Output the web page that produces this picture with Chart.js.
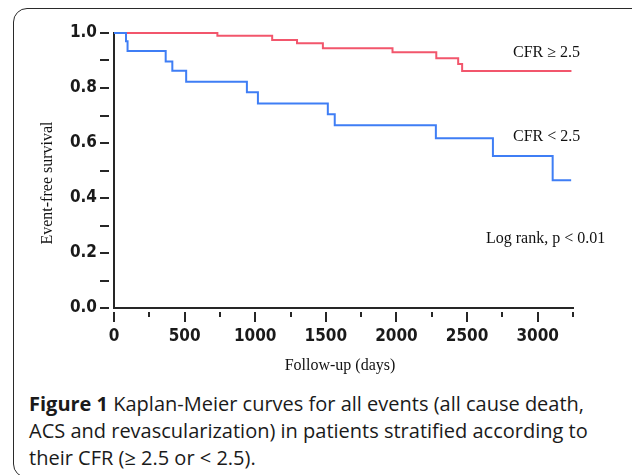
<!DOCTYPE html>
<html>
<head>
<meta charset="utf-8">
<script src="https://cdn.jsdelivr.net/npm/chart.js@4/dist/chart.umd.min.js"></script>
<style>
    html, body { margin: 0; padding: 0; background: #fff; width: 632px; height: 475px; overflow: hidden; }
    #frame {
        position: absolute; left: 13px; top: 8px; width: 640px; height: 470px;
        border: 1.5px solid #2a2a2a; border-radius: 14px; box-sizing: border-box;
    }
    #wrap { position: absolute; left: 0; top: 0; width: 632px; height: 380px; }
    #caption {
        position: absolute; left: 29px; top: 390px; width: 600px;
        font-family: "Open Sans", sans-serif; font-size: 20px; line-height: 27px; color: #1a1a1a;
    }
    #caption b { font-weight: 700; }
</style>
</head>
<body>
<div id="frame"></div>
<div id="wrap"><canvas id="km" width="632" height="380"></canvas></div>
<div id="caption"><b>Figure 1</b> Kaplan-Meier curves for all events (all cause death,<br>ACS and revascularization) in patients stratified according to<br>their CFR (≥ 2.5 or &lt; 2.5).</div>
<script>
// follow-up days where the survival estimate changes, and the estimate after each step
const daysHighCfr = [0, 732, 1120, 1296, 1479, 1972, 2282, 2437, 2465, 3239];
const survHighCfr = [1, 0.99, 0.975, 0.963, 0.945, 0.93, 0.908, 0.887, 0.862, 0.862];

const daysLowCfr = [0, 85, 96, 366, 413, 511, 941, 1019, 1514, 1563, 2279, 2683, 3106, 3237];
const survLowCfr = [1, 0.97, 0.935, 0.896, 0.863, 0.823, 0.785, 0.744, 0.705, 0.665, 0.617, 0.553, 0.465, 0.465];

const xMax = 3250;
const yLabelEvery = 0.2;

const toPoints = (days, surv) => days.map((d, i) => ({ x: d, y: surv[i] }));

const axisColor = "#262626";
const tickFont = { family: "DejaVu Sans Condensed", size: 17, weight: "bold" };
const serif = '16px "Liberation Serif", "Times New Roman", serif';

const extras = {
    id: "km-extras",
    afterDraw(chart) {
        const { ctx, chartArea, scales: { x, y } } = chart;
        ctx.save();
        ctx.strokeStyle = axisColor;
        ctx.lineWidth = 2;

        // y tick dashes, detached from the axis line
        y.ticks.forEach((t) => {
            const py = Math.round(y.getPixelForValue(t.value));
            ctx.beginPath();
            ctx.moveTo(chartArea.left - 14, py);
            ctx.lineTo(chartArea.left - 5, py);
            ctx.stroke();
        });

        // x tick marks, longer on the labelled ones
        x.ticks.forEach((t) => {
            const px = Math.round(x.getPixelForValue(t.value));
            const major = t.value % 500 === 0;
            ctx.beginPath();
            ctx.moveTo(px, chartArea.bottom + 4);
            ctx.lineTo(px, chartArea.bottom + (major ? 14 : 9));
            ctx.stroke();
        });

        ctx.fillStyle = "#111";
        ctx.font = serif;
        ctx.textAlign = "left";
        ctx.textBaseline = "alphabetic";
        ctx.fillText("CFR ≥ 2.5", 513, 57);
        ctx.fillText("CFR < 2.5", 513, 141);
        ctx.fillText("Log rank, p < 0.01", 486, 243);

        ctx.textAlign = "center";
        ctx.fillText("Follow-up (days)", 340, 370);

        ctx.translate(52, 183);
        ctx.rotate(-Math.PI / 2);
        ctx.fillText("Event-free survival", 0, 0);
        ctx.restore();
    },
};

new Chart(document.getElementById("km"), {
    type: "line",
    data: {
        datasets: [
            {
                label: "CFR < 2.5",
                data: toPoints(daysLowCfr, survLowCfr),
                borderColor: "#3f7ef5",
                borderWidth: 2,
                stepped: "before",
                pointRadius: 0,
                fill: false,
                clip: 4,
            },
            {
                label: "CFR ≥ 2.5",
                data: toPoints(daysHighCfr, survHighCfr),
                borderColor: "#f2566c",
                borderWidth: 2,
                stepped: "before",
                pointRadius: 0,
                fill: false,
                clip: 4,
            },
        ],
    },
    options: {
        responsive: false,
        animation: false,
        layout: { padding: { top: 33, right: 59, left: 0, bottom: 0 } },
        plugins: {
            legend: { display: false },
            tooltip: { enabled: false },
        },
        scales: {
            x: {
                type: "linear",
                min: 0,
                max: xMax,
                afterFit: (scale) => { scale.height = 72; },
                border: { display: true, color: axisColor, width: 2 },
                grid: { display: false, drawTicks: false },
                ticks: {
                    stepSize: 250,
                    padding: 18,
                    maxRotation: 0,
                    autoSkip: false,
                    color: "#1a1a1a",
                    font: tickFont,
                    callback: (v) => (v % 500 === 0 ? String(v) : ""),
                },
            },
            y: {
                min: 0,
                max: 1,
                afterFit: (scale) => { scale.width = 114; },
                border: { display: true, color: axisColor, width: 2 },
                grid: { display: false, drawTicks: false },
                ticks: {
                    stepSize: 0.1,
                    padding: 17,
                    autoSkip: false,
                    color: "#1a1a1a",
                    font: tickFont,
                    callback: (v) =>
                        Math.round(v * 10) % Math.round(yLabelEvery * 10) === 0 ? v.toFixed(1) : "",
                },
            },
        },
    },
    plugins: [extras],
});
</script>
</body>
</html>
